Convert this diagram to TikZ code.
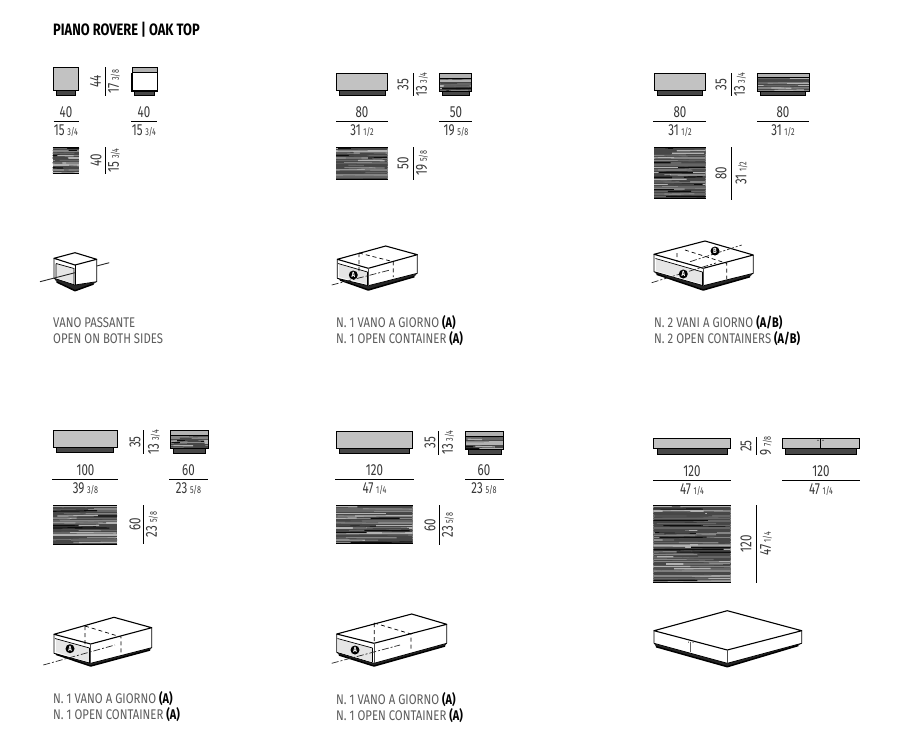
\documentclass[tikz,border=0pt]{standalone}
\usepackage{fontspec}
\setmainfont{Liberation Sans}
\newfontfamily\dinf[FakeStretch=0.81]{Fira Sans}
\newfontfamily\dinn[FakeStretch=0.72]{Fira Sans}
\newfontfamily\dinb[FakeStretch=0.78]{Fira Sans}
\definecolor{wood1}{gray}{0.05}
\definecolor{wood2}{gray}{0.28}
\definecolor{wood3}{gray}{0.52}
\definecolor{wood4}{gray}{0.7}
\definecolor{wood5}{gray}{0.4}
\definecolor{inkg}{gray}{0.36}
\tikzset{
  x=1pt,y=-1pt,
  topface/.style={fill=black!24,draw=black,line width=1pt},
  basef/.style={fill=black!72,draw=black,line width=.7pt},
  dimline/.style={draw=black,line width=.9pt},
  dimnum/.style={inner sep=0pt,text=black!78,font=\dinn\fontsize{16}{16}\selectfont},
  captxt/.style={anchor=west,inner sep=0pt,text=inkg,font=\dinf\fontsize{14}{14}\selectfont},
  titletxt/.style={anchor=west,inner sep=0pt,text=black,font=\dinb\bfseries\fontsize{16.5}{16.5}\selectfont},
  edge/.style={draw=black,line width=1pt,line join=round},
  hid/.style={draw=black,line width=.7pt,dash pattern=on 4pt off 3pt},
  axisl/.style={draw=black!85,line width=.7pt},
  badge/.style={circle,fill=black,inner sep=0pt,minimum size=9pt,text=white,font=\dinb\bfseries\fontsize{7.5}{7.5}\selectfont},
}
\newcommand\fr[1]{\,{\fontsize{10}{10}\selectfont #1}}
\newcommand\capb[1]{{\color{black}\dinb\bfseries #1}}
% wood texture: x0 y0 x1 y1 seed
\newcommand\woodtex[5]{%
  \begin{scope}
    \clip (#1,#2) rectangle (#3,#4);
    \fill[wood2] (#1,#2) rectangle (#3,#4);
    \pgfmathsetseed{#5}
    \pgfmathtruncatemacro\wrows{(#4-#2)/2.4}
    \foreach \wr in {0,...,\wrows}{
      \pgfmathsetmacro\wy{#2+\wr*2.4+.9}
      \pgfmathtruncatemacro\wb{random(2,5)}
      \draw[wood\wb,line width=1.7pt] (#1,\wy) -- (#3,\wy);
      \foreach \ws in {1,2}{
        \pgfmathsetmacro\wx{#1+(random(0,90)-25)*(#3-#1)/100}
        \pgfmathsetmacro\wl{random(30,85)*(#3-#1)/100}
        \pgfmathtruncatemacro\wc{random(1,5)}
        \pgfmathsetmacro\wd{(random(0,10)-5)*.1}
        \draw[wood\wc,line width=1.2pt] (\wx,\wy) -- ++(\wl,\wd);
      }
    }
  \end{scope}
  \draw[black,line width=.6pt] (#1,#2) -- (#3,#2) (#1,#4) -- (#3,#4);
}
% horizontal dimension: name cx x0 x1 yline num frac-line
\newcommand\dimH[7]{%
  \node[dimnum] (#1n) at (#2,#5-9.6) {#6};
  \node[dimnum] (#1f) at (#2,#5+9.3) {#7};
  \draw[dimline] (#3,#5) -- (#4,#5);
}
% vertical dimension: name xline y0 y1 xnum xfrac num frac
\newcommand\dimV[8]{%
  \pgfmathsetmacro\vc{(#3+#4)/2}
  \node[dimnum,rotate=90] (#1n) at (#5,\vc) {#7};
  \node[dimnum,rotate=90] (#1f) at (#6,\vc) {#8};
  \draw[dimline] (#2,#3) -- (#2,#4);
}
% gray front view: x0 x1 y0 y1 bx0 bx1 by
\newcommand\grayview[7]{%
  \fill[black!72] (#5,#4) rectangle (#6,#7);
  \draw[basef] (#5,#4) rectangle (#6,#7);
  \draw[topface] (#1,#3) rectangle (#2,#4);
}
% wood front view: x0 x1 y0 y1 stripbottom bx0 bx1 by seed
\newcommand\woodview[9]{%
  \draw[basef] (#6,#4) rectangle (#7,#8);
  \woodtex{#1}{#5}{#2}{#4}{#9}
  \fill[black!30] (#1,#3) rectangle (#2,#5);
  \draw[black,line width=1pt] (#1,#5) -- (#2,#5) (#1,#3) -- (#2,#3) (#1,#3) -- (#1,#4) -- (#2,#4) -- (#2,#3);
}
% iso box using coordinates L B R F Lb Fb Rb BL BF BR
\newcommand\isodraw{%
  \fill[black!85] (BL) -- (BF) -- (BR) -- (Rb) -- (Fb) -- (Lb) -- cycle;
  \fill[white] (L) -- (B) -- (R) -- (Rb) -- (Fb) -- (Lb) -- cycle;
  \draw[edge,line width=1.1pt] (L) -- (B) -- (R) -- (F) -- cycle;
  \draw[edge,line width=.8pt] (L) -- (Lb) -- (Fb) -- (Rb) -- (R);
  \draw[edge,line width=.8pt,black!70] (F) -- (Fb);
  \draw[edge,line width=1.5pt] (BL) -- (BF) -- (BR);
}
\begin{document}
\begin{tikzpicture}
\useasboundingbox (0,0) rectangle (916,750);
\fill[white] (0,0) rectangle (916,750);
\node[titletxt] (title) at (53,29.5) {PIANO ROVERE | OAK TOP};

% ---------- Group 1
\grayview{53.5}{78.5}{67.5}{90.7}{56.7}{75.7}{95.7}
\dimV{a1}{105.3}{67}{95.7}{95.5}{114}{44}{17\fr{3/8}}
\fill[black!70] (134.3,90.7) rectangle (154.7,95.7);
\draw[basef] (134.3,90.7) rectangle (154.7,95.7);
\fill[white] (132,67.5) rectangle (157.3,90.7);
\fill[black!30] (132,67.5) rectangle (157.3,72.5);
\draw[black,line width=1.6pt] (132,72.5) -- (132,90.7) -- (157.3,90.7) -- (157.3,72.5);
\draw[black,line width=.9pt] (132,67.5) rectangle (157.3,72.5);
\dimH{a2}{66}{53.5}{78.5}{121.3}{40}{15\fr{3/4}}
\dimH{a3}{144}{131}{157.3}{121.3}{40}{15\fr{3/4}}
\woodtex{52.5}{147.5}{79}{173.7}{11}
\dimV{a4}{105.3}{147}{173.7}{96}{114}{40}{15\fr{3/4}}
\begin{scope}
 \coordinate (L) at (54,258.3); \coordinate (B) at (75,252.7); \coordinate (R) at (96.7,259.3); \coordinate (F) at (75,265);
 \coordinate (Lb) at (54,278.3); \coordinate (Fb) at (75,285); \coordinate (Rb) at (96.7,281.7);
 \coordinate (BL) at (56.7,282); \coordinate (BF) at (75,290.7); \coordinate (BR) at (93.5,284);
 \isodraw
 \fill[black!10] (56,263) -- (74,268) -- (74,283.5) -- (56,278) -- cycle;
 \draw[black,line width=.7pt] (56,263.5) -- (74,268.5) -- (74,284) (56,263.5) -- (56,278.5);
 \draw[edge,line width=.9pt] (75,265) -- (75,285);
 \coordinate (a5) at (40,281.7); \coordinate (a6) at (75,272.7); \coordinate (a7) at (96.7,266); \coordinate (a8) at (109.3,262.7);
 \draw[axisl,line width=.9pt] (a5) -- (a6) (a7) -- (a8);
\end{scope}
\node[captxt] (c1a) at (53,322.5) {VANO PASSANTE};
\node[captxt] (c1b) at (53,338.5) {OPEN ON BOTH SIDES};

% ---------- Group 2
\grayview{336}{387.7}{73.3}{90.7}{339.3}{385}{95.7}
\dimV{b1}{413.3}{73.3}{96.3}{403}{422}{35}{13\fr{3/4}}
\woodview{439.3}{471.7}{73.3}{91}{78}{442.7}{469}{95.7}{21}
\dimH{b2}{362}{336}{387.7}{121.3}{80}{31\fr{1/2}}
\dimH{b3}{456}{439}{472}{121.3}{50}{19\fr{5/8}}
\woodtex{336}{147.5}{387.7}{179.3}{22}
\dimV{b4}{413.3}{147}{179.5}{403}{422}{50}{19\fr{5/8}}
\begin{scope}
 \coordinate (L) at (337.3,259.3); \coordinate (B) at (385.7,246); \coordinate (R) at (417.3,254.7); \coordinate (F) at (368.3,268.3);
 \coordinate (Lb) at (337.3,278.3); \coordinate (Fb) at (368.3,285.7); \coordinate (Rb) at (417.3,273.3);
 \coordinate (BL) at (340,280); \coordinate (BF) at (368.3,290); \coordinate (BR) at (414.3,276.7);
 \isodraw
 \fill[black!10] (339,264) -- (367,272) -- (367,284) -- (339,277) -- cycle;
 \draw[black,line width=.7pt] (338,263.5) -- (367.5,272) (367.5,272) -- (367.5,285);
 \draw[hid] (359,253) -- (359,273) (359,253) -- (393.3,261.7) -- (393.3,277);
 \coordinate (b5) at (331.7,285); \coordinate (b6) at (390,270);
 \draw[axisl,dash pattern=on 7pt off 2pt on 2pt off 2pt] (b5) -- (b6);
 \node[badge] (ba) at (353.3,275) {A};
\end{scope}
\node[captxt] (c2a) at (336,322.5) {N. 1 VANO A GIORNO \capb{(A)}};
\node[captxt] (c2b) at (336,338.5) {N. 1 OPEN CONTAINER \capb{(A)}};

% ---------- Group 3
\grayview{654}{705.7}{73.3}{90.7}{657.3}{702.7}{95.7}
\dimV{c1}{731.3}{73.3}{96}{721}{740}{35}{13\fr{3/4}}
\woodview{757.3}{809}{73.3}{91}{77.5}{760}{805.7}{95.7}{31}
\dimH{c2}{680}{653}{706}{121.3}{80}{31\fr{1/2}}
\dimH{c3}{783}{757}{809}{121.3}{80}{31\fr{1/2}}
\woodtex{654}{147.5}{705.7}{198.7}{32}
\dimV{c4}{731.3}{147}{199.7}{721}{741.5}{80}{31\fr{1/2}}
\begin{scope}
 \coordinate (L) at (654,254.3); \coordinate (B) at (705,241); \coordinate (R) at (753.3,255); \coordinate (F) at (703.3,268.3);
 \coordinate (Lb) at (654,271.7); \coordinate (Fb) at (703.3,285.7); \coordinate (Rb) at (753.3,273.3);
 \coordinate (BL) at (656.7,274.3); \coordinate (BF) at (703.3,290); \coordinate (BR) at (750,276.7);
 \isodraw
 \fill[black!10] (656,259) -- (702,272) -- (702,284) -- (656,271) -- cycle;
 \draw[black,line width=.7pt] (655.5,258.5) -- (702.5,272) (702.5,272) -- (702.5,285);
 \draw[hid] (677,253) -- (677,262) (685,250) -- (726.7,263.3) -- (726.7,279);
 \coordinate (c5) at (651.7,282.7); \coordinate (c6) at (716,263); \coordinate (c7) at (690,261.7); \coordinate (c8) at (741.7,245);
 \draw[axisl,dash pattern=on 7pt off 2pt on 2pt off 2pt] (c5) -- (c6) (c7) -- (c8);
 \node[badge] (ca) at (683.3,274) {A};
 \node[badge] (cb) at (715,251) {B};
\end{scope}
\node[captxt] (c3a) at (654,322.5) {N. 2 VANI A GIORNO \capb{(A/B)}};
\node[captxt] (c3b) at (654,338.5) {N. 2 OPEN CONTAINERS \capb{(A/B)}};

% ---------- Group 4
\grayview{53.3}{117.7}{430.3}{447.3}{56.3}{113.7}{452.7}
\dimV{d1}{143.3}{430.3}{453.7}{135}{154}{35}{13\fr{3/4}}
\woodview{170}{208}{430.3}{448}{435}{173.3}{205.7}{453.7}{41}
\dimH{d2}{85.5}{52}{118}{479.3}{100}{39\fr{3/8}}
\dimH{d3}{188.5}{169}{208}{479.3}{60}{23\fr{5/8}}
\woodtex{53}{505.5}{117}{544}{42}
\dimV{d4}{143.3}{505}{544}{135}{152}{60}{23\fr{5/8}}
\begin{scope}
 \coordinate (L) at (54,634.3); \coordinate (B) at (114,617.3); \coordinate (R) at (151.7,627.7); \coordinate (F) at (90.7,644);
 \coordinate (Lb) at (54,653.3); \coordinate (Fb) at (90.7,663.3); \coordinate (Rb) at (151.7,647.7);
 \coordinate (BL) at (56,654.3); \coordinate (BF) at (90.7,666); \coordinate (BR) at (150,650);
 \isodraw
 \fill[black!10] (56,639) -- (89,648) -- (89,662) -- (56,652) -- cycle;
 \draw[black,line width=.7pt] (55,638.5) -- (89.5,648) (89.5,648) -- (89.5,663);
 \draw[hid] (85,626) -- (85,647) (85,626) -- (121,637) -- (121,654);
 \coordinate (d5) at (43.3,665); \coordinate (d6) at (115,645);
 \draw[axisl,dash pattern=on 7pt off 2pt on 2pt off 2pt] (d5) -- (d6);
 \node[badge] (da) at (70,648.7) {A};
\end{scope}
\node[captxt] (c4a) at (53,698.5) {N. 1 VANO A GIORNO \capb{(A)}};
\node[captxt] (c4b) at (53,714.5) {N. 1 OPEN CONTAINER \capb{(A)}};

% ---------- Group 5
\grayview{336.3}{412.3}{431.3}{448.3}{339.3}{409.7}{453.3}
\dimV{e1}{438.3}{431}{454.5}{430}{448}{35}{13\fr{3/4}}
\woodview{465}{503.7}{431}{449}{436}{468.3}{501}{454}{51}
\dimH{e2}{374.5}{335}{414}{479.3}{120}{47\fr{1/4}}
\dimH{e3}{484}{465}{504}{479.3}{60}{23\fr{5/8}}
\woodtex{336}{505.5}{412.7}{543.3}{52}
\dimV{e4}{439.3}{505}{545}{430}{448}{60}{23\fr{5/8}}
\begin{scope}
 \coordinate (L) at (336.7,634); \coordinate (B) at (411.7,614); \coordinate (R) at (446.7,624.3); \coordinate (F) at (374,643.3);
 \coordinate (Lb) at (336.7,652.3); \coordinate (Fb) at (374,663.3); \coordinate (Rb) at (446.7,643.3);
 \coordinate (BL) at (339,655); \coordinate (BF) at (374,666); \coordinate (BR) at (445,646);
 \isodraw
 \fill[black!10] (338,639) -- (372,648) -- (372,662) -- (338,652) -- cycle;
 \draw[black,line width=.7pt] (337.5,638.5) -- (372.5,648) (372.5,648) -- (372.5,662);
 \draw[hid] (374.3,623) -- (374.3,642) (374.3,623) -- (411,634) -- (411,650);
 \coordinate (e5) at (331.7,663.3); \coordinate (e6) at (400,645);
 \draw[axisl,dash pattern=on 7pt off 2pt on 2pt off 2pt] (e5) -- (e6);
 \node[badge] (ea) at (355,650) {A};
\end{scope}
\node[captxt] (c5a) at (336,699.5) {N. 1 VANO A GIORNO \capb{(A)}};
\node[captxt] (c5b) at (336,715.5) {N. 1 OPEN CONTAINER \capb{(A)}};

% ---------- Group 6
\grayview{653.3}{730.7}{438.3}{448.7}{657}{727.7}{454.7}
\dimV{f1}{756.3}{437.3}{454.7}{746}{766}{25}{9\fr{7/8}}
\grayview{782.3}{859.7}{438.3}{448.7}{785.3}{856.7}{454.7}
\draw[black,line width=.7pt] (820.3,438.3) -- (820.3,448.7);
\fill[black] (818,440.3) circle (.6) (823,440.3) circle (.6);
\dimH{f2}{692}{653}{731}{480.3}{120}{47\fr{1/4}}
\dimH{f3}{821}{782}{860}{480.3}{120}{47\fr{1/4}}
\woodtex{653.3}{505.5}{730.7}{582.7}{62}
\dimV{f4}{756.3}{505}{582.7}{746}{766}{120}{47\fr{1/4}}
\begin{scope}
 \coordinate (L) at (654,630.7); \coordinate (B) at (727.3,610.7); \coordinate (R) at (801.7,630.7); \coordinate (F) at (727.3,650);
 \coordinate (Lb) at (654,643.3); \coordinate (Fb) at (727.3,663.3); \coordinate (Rb) at (801.7,643.3);
 \coordinate (BL) at (656,646.7); \coordinate (BF) at (727.3,666.7); \coordinate (BR) at (798.3,645.5);
 \isodraw
 \draw[black!60,line width=.7pt] (690.7,642) -- (690.7,652);
 \fill[black] (688.5,642) circle (.5) (693,642.5) circle (.5);
\end{scope}
\end{tikzpicture}
\end{document}
